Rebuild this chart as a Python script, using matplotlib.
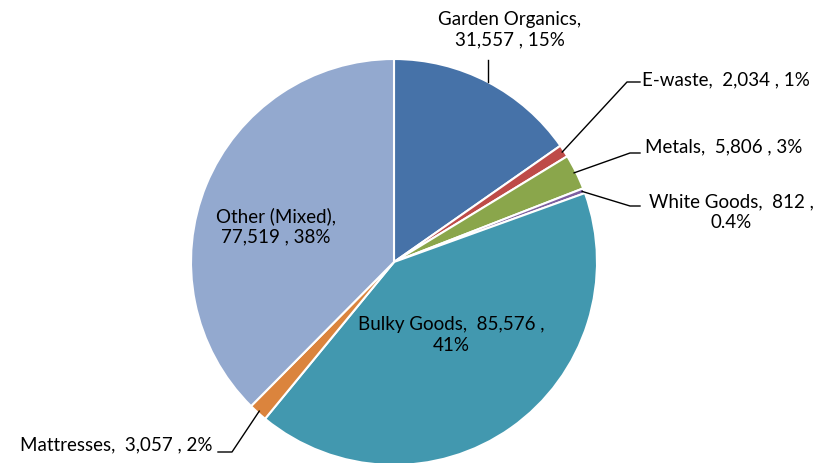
import numpy as np
import matplotlib
matplotlib.use("Agg")
import matplotlib.pyplot as plt

categories = ["Garden Organics", "E-waste", "Metals", "White Goods",
              "Bulky Goods", "Mattresses", "Other (Mixed)"]
tonnes = [31557, 2034, 5806, 812, 85576, 3057, 77519]
pct_labels = ["15%", "1%", "3%", "0.4%", "41%", "2%", "38%"]
colors = ["#4672A8", "#BE4B48", "#8AA64B", "#7D5FA0",
          "#4298AF", "#DB843D", "#93A9CF"]

W, H = 818, 463
plt.rcParams['font.family'] = ['Lato', 'DejaVu Sans']

fig = plt.figure(figsize=(W / 100, H / 100), dpi=100)
ax = fig.add_axes([0, 0, 1, 1])

cx, cy, r = 394, H - 262, 203
wedges, _ = ax.pie(tonnes, colors=colors, startangle=90, counterclock=False,
                   center=(cx, cy), radius=r, frame=True,
                   wedgeprops=dict(edgecolor='white', linewidth=1.5))
ax.set_xlim(0, W)
ax.set_ylim(0, H)
ax.set_aspect('equal')
ax.axis('off')


def txt(i, sep=",  "):
    return categories[i] + sep + f"{tonnes[i]:,}" + " , " + pct_labels[i]


def edge_pt(i, frac=1.0):
    w = wedges[i]
    ang = np.deg2rad((w.theta1 + w.theta2) / 2)
    return cx + r * frac * np.cos(ang), cy + r * frac * np.sin(ang)


fs = 13.5
ls = 1.25
lk = dict(color='black', lw=1.0)

# Garden Organics (label above)
x0, y0 = edge_pt(0)
ax.plot([x0, x0], [y0, H - 60], **lk)
ax.text(510, H - 30, categories[0] + ",\n" + f"{tonnes[0]:,}" + " , " + pct_labels[0],
        ha='center', va='center', fontsize=fs, linespacing=ls)

# E-waste
x0, y0 = edge_pt(1, 0.99)
ax.plot([x0, 627, 640], [y0, H - 82, H - 82], **lk)
ax.text(642, H - 80, txt(1), ha='left', va='center', fontsize=fs)

# Metals
x0, y0 = edge_pt(2, 0.99)
ax.plot([x0, 630, 640], [y0, H - 153, H - 153], **lk)
ax.text(645, H - 147, txt(2), ha='left', va='center', fontsize=fs)

# White Goods
x0, y0 = edge_pt(3, 0.99)
ax.plot([x0, 630, 640], [y0, H - 206, H - 206], **lk)
ax.text(731, H - 212, categories[3] + ",  " + f"{tonnes[3]:,}" + " ,\n" + pct_labels[3],
        ha='center', va='center', fontsize=fs, linespacing=ls)

# Mattresses
x0, y0 = edge_pt(5, 0.99)
ax.plot([x0, 232, 218], [y0, H - 452, H - 452], **lk)
ax.text(213, H - 445, txt(5), ha='right', va='center', fontsize=fs)

# Bulky Goods (inside)
ax.text(451, H - 335, categories[4] + ",  " + f"{tonnes[4]:,}" + " ,\n" + pct_labels[4],
        ha='center', va='center', fontsize=fs, linespacing=ls)

# Other (Mixed) (inside)
ax.text(276, H - 226, categories[6] + ",\n" + f"{tonnes[6]:,}" + " , " + pct_labels[6],
        ha='center', va='center', fontsize=fs, linespacing=ls)

fig.savefig("out.png", dpi=100)
